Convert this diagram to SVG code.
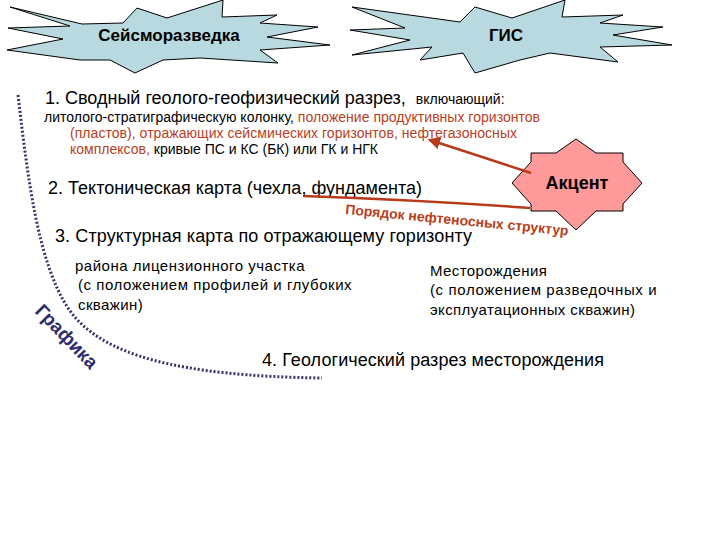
<svg xmlns="http://www.w3.org/2000/svg" width="720" height="540" viewBox="0 0 720 540">
<defs>
<marker id="ah" viewBox="0 0 10 10" refX="8" refY="5" markerWidth="5" markerHeight="5" orient="auto-start-reverse">
<path d="M0,0 L10,5 L0,10 z" fill="#b83a1c"/>
</marker>
</defs>
<style>
text{font-family:"Liberation Sans",Arial,sans-serif;fill:#000}
.boom{fill:#b8d9df;stroke:#000;stroke-width:1}
.star{fill:#ff9a9a;stroke:#000;stroke-width:1}
.hd{font-weight:bold;font-size:17px}
.big{font-size:18px}
.sm{font-size:14px}
.md{font-size:15px;letter-spacing:0.4px}
.red{fill:#b8401c}
.con{stroke:#b83a1c;stroke-width:2.5;fill:none}
</style>
<rect width="720" height="540" fill="#fff"/>
<g id="seismo">
<polygon class="boom" points="10,7 82,24 123,23 137,8 167,18 223,0 222,17 277,15 260,23 318,27 267,37 330,45 260,50 278,63 200,58 163,60 135,73 110,60 80,60 7,50 63,39 8,28 70,26"/>
<text class="hd" x="169" y="41" text-anchor="middle">Сейсморазведка</text>
</g>
<g id="gis">
<polygon class="boom" points="352,7 460,22 475,7 512,18 565,0 562,17 623,15 600,23 663,27 613,35 672,45 600,47 618,62 550,53 520,60 475,73 463,53 420,60 432,47 352,55 410,40 350,30 405,28"/>
<text class="hd" x="506" y="41" text-anchor="middle">ГИС</text>
</g>
<g id="item1">
<text x="45" y="104"><tspan class="big">1.  Сводный геолого-геофизический разрез,</tspan><tspan class="sm" dx="10">включающий:</tspan></text>
<text class="sm" x="44" y="122" textLength="496">литолого-стратиграфическую колонку, <tspan class="red">положение продуктивных горизонтов</tspan></text>
<text class="sm red" x="70" y="138" textLength="447">(пластов), отражающих сейсмических горизонтов, нефтегазоносных</text>
<text class="sm" x="70" y="154" textLength="308"><tspan class="red">комплексов,</tspan> кривые ПС и КС (БК) или ГК и НГК</text>
</g>
<g id="item2">
<text class="big" x="48" y="194" textLength="374">2. Тектоническая карта (чехла, фундамента)</text>
</g>
<g id="item3">
<text class="big" x="55" y="242" textLength="417">3.  Структурная карта по отражающему горизонту</text>
<text class="md" x="75" y="271" textLength="230">района лицензионного участка</text>
<text class="md" x="78" y="290" textLength="274">(с положением профилей и глубоких</text>
<text class="md" x="78" y="310">скважин)</text>
<text class="md" x="430" y="276">Месторождения</text>
<text class="md" x="430" y="295" textLength="227">(с положением разведочных и</text>
<text class="md" x="430" y="315">эксплуатационных скважин)</text>
</g>
<g id="item4">
<text class="big" x="262" y="366" textLength="342">4. Геологический разрез месторождения</text>
</g>
<g id="graphics">
<path d="M18,95 C28,180 38,262 68,308 C100,356 180,376 322,378" fill="none" stroke="#35356e" stroke-width="3" stroke-dasharray="2,2"/>
<text x="0" y="0" font-weight="bold" font-size="19" style="fill:#2e2e6e" transform="translate(34,312) rotate(46)">Графика</text>
</g>
<g id="accent">
<polygon class="star" points="531,153 556,153 576,139 596,153 623,153 623,162 642,183 623,204 623,211 596,211 576,230 556,211 531,211 531,204 512,183 531,162"/>
<text x="577" y="189" text-anchor="middle" font-weight="bold" font-size="18">Акцент</text>
</g>
<g id="connectors">
<line class="con" x1="531" y1="173" x2="430" y2="140" marker-end="url(#ah)"/>
<path class="con" d="M303,196 Q420,200 530,208"/>
<text class="red" font-weight="bold" font-size="14" transform="translate(345,214) rotate(5.5)" textLength="224">Порядок нефтеносных структур</text>
</g>
</svg>
